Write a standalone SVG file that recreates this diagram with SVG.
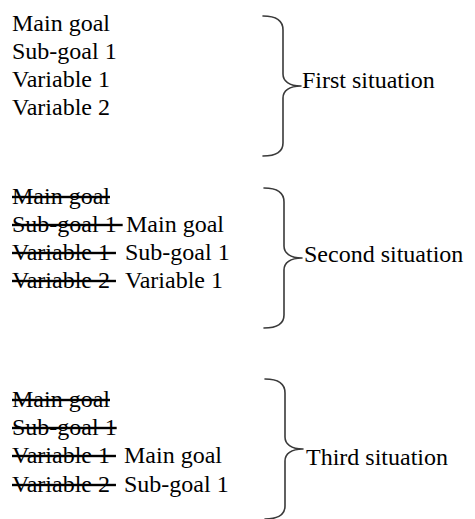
<svg xmlns="http://www.w3.org/2000/svg" width="475" height="519" viewBox="0 0 475 519" font-family="serif" font-size="24">
<defs>
<path id="br" fill="none" stroke="#3a3a3a" stroke-width="1.6" stroke-linecap="round" stroke-linejoin="round" d="M263,16 C275,16 283,20 283,30 L283,74 C283,81 289,86 301,86 C289,86 283,91 283,98 L283,143 C283,152 275,156 263,156"/>
</defs>
<rect width="475" height="519" fill="#fff"/>
<g id="connectors">
<use id="brace1" href="#br"/>
<use id="brace2" href="#br" transform="translate(1,172)"/>
<use id="brace3" href="#br" transform="translate(2,363)"/>
</g>
<g id="first">
<text font-family="Times New Roman, serif" x="12" y="31">Main goal</text>
<text font-family="Times New Roman, serif" x="12" y="59">Sub-goal 1</text>
<text font-family="Times New Roman, serif" x="12" y="87">Variable 1</text>
<text font-family="Times New Roman, serif" x="12" y="115">Variable 2</text>
</g>
<g id="first-label"><text font-family="Times New Roman, serif" x="302" y="88">First situation</text></g>
<g id="second">
<text font-family="Times New Roman, serif" text-decoration="line-through" x="12" y="204">Main goal</text>
<text font-family="Times New Roman, serif" text-decoration="line-through" x="12" y="232" xml:space="preserve">Sub-goal 1 </text>
<text font-family="Times New Roman, serif" text-decoration="line-through" x="12" y="260" xml:space="preserve">Variable 1 </text>
<text font-family="Times New Roman, serif" text-decoration="line-through" x="12" y="288" xml:space="preserve">Variable 2 </text>
<text font-family="Times New Roman, serif" x="126" y="232">Main goal</text>
<text font-family="Times New Roman, serif" x="125" y="260">Sub-goal 1</text>
<text font-family="Times New Roman, serif" x="125" y="288">Variable 1</text>
</g>
<g id="second-label"><text font-family="Times New Roman, serif" x="304" y="262">Second situation</text></g>
<g id="third">
<text font-family="Times New Roman, serif" text-decoration="line-through" x="12" y="407">Main goal</text>
<text font-family="Times New Roman, serif" text-decoration="line-through" x="12" y="435">Sub-goal 1</text>
<text font-family="Times New Roman, serif" text-decoration="line-through" x="12" y="463" xml:space="preserve">Variable 1 </text>
<text font-family="Times New Roman, serif" text-decoration="line-through" x="12" y="492" xml:space="preserve">Variable 2 </text>
<text font-family="Times New Roman, serif" x="124" y="463">Main goal</text>
<text font-family="Times New Roman, serif" x="124" y="492">Sub-goal 1</text>
</g>
<g id="third-label"><text font-family="Times New Roman, serif" x="306" y="465">Third situation</text></g>
</svg>
